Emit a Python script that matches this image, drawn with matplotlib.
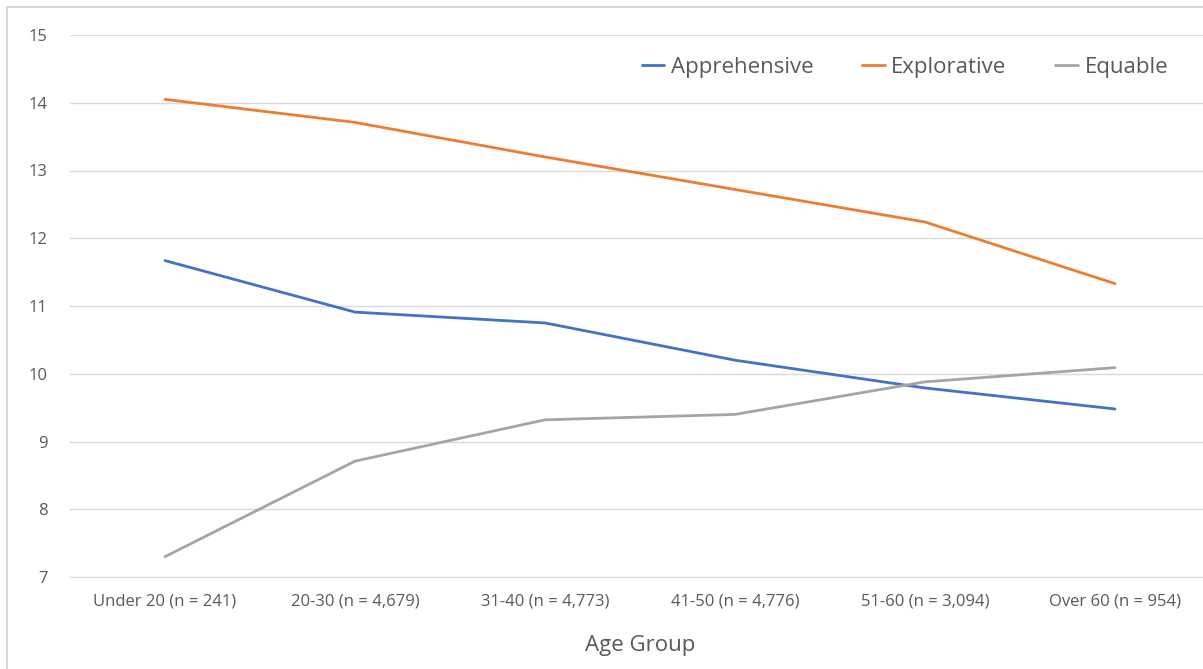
import matplotlib
matplotlib.use("Agg")
import matplotlib.pyplot as plt
from matplotlib.patches import Rectangle

categories = ["Under 20 (n = 241)", "20-30 (n = 4,679)", "31-40 (n = 4,773)",
              "41-50 (n = 4,776)", "51-60 (n = 3,094)", "Over 60 (n = 954)"]
apprehensive = [11.67, 10.91, 10.75, 10.20, 9.79, 9.48]
explorative = [14.05, 13.71, 13.20, 12.72, 12.24, 11.33]
equable = [7.30, 8.71, 9.32, 9.40, 9.88, 10.09]
yticks = [7, 8, 9, 10, 11, 12, 13, 14, 15]

plt.rcParams['font.family'] = ['Open Sans', 'DejaVu Sans']
W, H = 1203, 669
fig = plt.figure(figsize=(W / 100, H / 100), dpi=100)
fig.patches.append(Rectangle((7 / W, -0.1), 1.2, 1 - 7 / H + 0.1, transform=fig.transFigure,
                             fill=False, edgecolor="#D0D0D0", linewidth=1.2))

left, right = 70, 1210
top, bottom = 35, 577
ax = fig.add_axes([left / W, 1 - bottom / H, (right - left) / W, (bottom - top) / H])
x = list(range(len(categories)))
ax.plot(x, apprehensive, color="#4472C4", lw=2.0, label="Apprehensive", solid_capstyle="round")
ax.plot(x, explorative, color="#ED7D31", lw=2.0, label="Explorative", solid_capstyle="round")
ax.plot(x, equable, color="#A5A5A5", lw=2.0, label="Equable", solid_capstyle="round")
ax.set_xlim(-0.5, len(categories) - 0.5)
ax.set_ylim(7, 15)
ax.set_yticks(yticks)
ax.set_xticks(x)
ax.set_xticklabels(categories)
ax.grid(axis="y", color="#D9D9D9", lw=1)
ax.set_axisbelow(True)
for s in ["top", "right", "left"]:
    ax.spines[s].set_visible(False)
ax.spines["bottom"].set_color("#D9D9D9")
ax.tick_params(axis="both", length=0, colors="#595959", labelsize=12)
ax.tick_params(axis="x", pad=12)
ax.tick_params(axis="y", pad=16)
ax.set_xlabel("Age Group", fontsize=16, color="#595959", labelpad=18)
leg = fig.legend(*ax.get_legend_handles_labels(), loc="center right",
                 bbox_to_anchor=(1168 / W, 1 - 67 / H), bbox_transform=fig.transFigure,
                 borderaxespad=0, borderpad=0, ncol=3, frameon=False,
                 fontsize=16, labelcolor="#595959", handlelength=1.0, columnspacing=2.2,
                 handletextpad=0.3)
fig.savefig("out.png", dpi=100)
